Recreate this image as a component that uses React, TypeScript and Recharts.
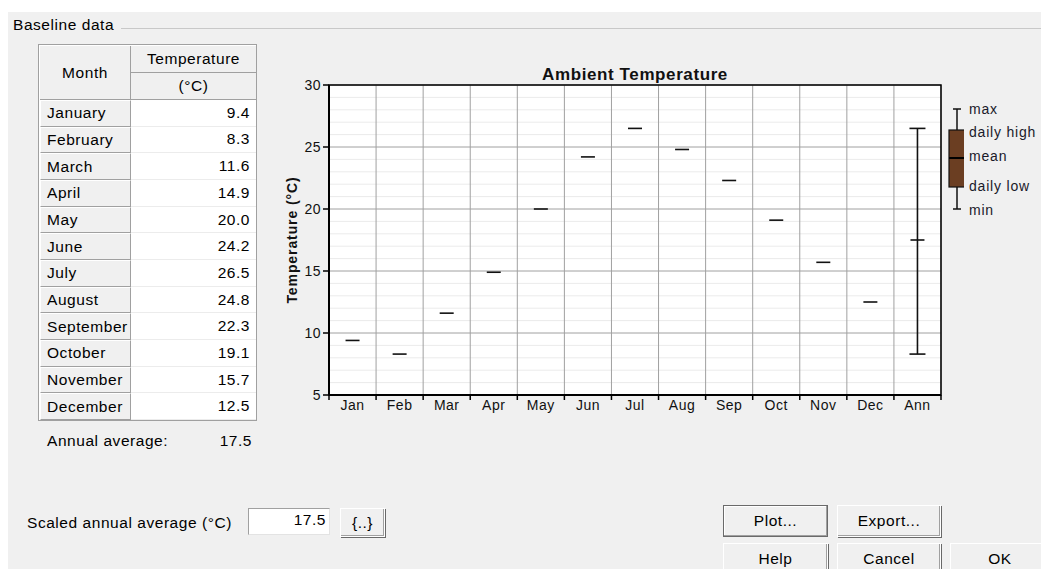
import React from "react";
import {
  ComposedChart,
  Scatter,
  XAxis,
  YAxis,
  CartesianGrid,
  ErrorBar,
  ReferenceArea,
} from "recharts";

const MONTHS = [
  "January", "February", "March", "April", "May", "June",
  "July", "August", "September", "October", "November", "December",
];
const CATEGORIES = ["Jan", "Feb", "Mar", "Apr", "May", "Jun", "Jul", "Aug", "Sep", "Oct", "Nov", "Dec", "Ann"];
const TEMPS = [9.4, 8.3, 11.6, 14.9, 20.0, 24.2, 26.5, 24.8, 22.3, 19.1, 15.7, 12.5];
const ANNUAL_MEAN = 17.5;
const ANNUAL_MIN = 8.3;
const ANNUAL_MAX = 26.5;
const SCALED_AVERAGE = 17.5;

const Y_TICKS = [5, 10, 15, 20, 25, 30];
const Y_MINOR = [6, 7, 8, 9, 11, 12, 13, 14, 16, 17, 18, 19, 21, 22, 23, 24, 26, 27, 28, 29];
const LEGEND_LABELS = ["max", "daily high", "mean", "daily low", "min"];

const FONT = "'Liberation Sans', Arial, sans-serif";
const BG = "#f0f0f0";
const UI_FONT = { fontSize: 15.5, letterSpacing: 0.55 };
const TICK_STYLE = { fill: "#111", fontSize: 14, letterSpacing: 0.5, fontFamily: FONT };

const CHART_W = 680;
const CHART_H = 360;
const MARGIN = { top: 25, right: 19, bottom: 0, left: 0 };
const Y_AXIS_W = 49;
const PLOT_W = CHART_W - MARGIN.left - MARGIN.right - Y_AXIS_W;

const monthData = TEMPS.map((t, i) => ({ x: i + 0.5, t }));
const annData = [
  { x: TEMPS.length + 0.5, t: ANNUAL_MEAN, err: [ANNUAL_MEAN - ANNUAL_MIN, ANNUAL_MAX - ANNUAL_MEAN] },
];
const boundaryTicks = CATEGORIES.map((_, i) => i).concat(CATEGORIES.length);

const Dash = (p: any) => (
  <line x1={p.cx - 7} x2={p.cx + 7} y1={p.cy} y2={p.cy} stroke="#111" strokeWidth={1.6} />
);

// label sits in the middle of each category band, right of its boundary tick
const CategoryTick = (p: any) => {
  const label = CATEGORIES[p.payload.value];
  if (!label) return <g />;
  const half = PLOT_W / CATEGORIES.length / 2;
  return (
    <text x={p.x + half} y={p.y} dy="0.7em" textAnchor="middle" {...TICK_STYLE}>
      {label}
    </text>
  );
};

function Button({ left, top, width, height, label, isDefault }: any) {
  return (
    <div
      style={{
        position: "absolute",
        left,
        top,
        width,
        height,
        boxSizing: "border-box",
        background: "#f0f0f0",
        border: isDefault ? "1px solid #6a6a6a" : "1px solid #ffffff",
        boxShadow: isDefault
          ? "inset -1px -1px 0 #a0a0a0, inset 1px 1px 0 #ffffff"
          : "inset -1px -1px 0 #a0a0a0, 1px 1px 0 #696969",
        display: "flex",
        alignItems: "center",
        justifyContent: "center",
        ...UI_FONT,
      }}
    >
      {label}
    </div>
  );
}

function Legend() {
  return (
    <div style={{ position: "absolute", left: 944, top: 100 }}>
      <svg width={20} height={120} style={{ position: "absolute", left: 0, top: 0 }}>
        <line x1={13} x2={13} y1={9} y2={109} stroke="#111" strokeWidth={1.5} />
        <line x1={9} x2={17} y1={9} y2={9} stroke="#111" strokeWidth={1.5} />
        <line x1={9} x2={17} y1={109} y2={109} stroke="#111" strokeWidth={1.5} />
        <rect x={5} y={30} width={16} height={57} fill="#6b3e22" stroke="#111" strokeWidth={1.2} />
        <line x1={5} x2={21} y1={58} y2={58} stroke="#000" strokeWidth={2} />
      </svg>
      {LEGEND_LABELS.map((l, i) => (
        <div
          key={l}
          style={{
            position: "absolute",
            left: 25,
            top: [1, 24, 48, 78, 102][i],
            fontSize: 14,
            letterSpacing: 0.8,
            color: "#1a1a2a",
            whiteSpace: "nowrap",
          }}
        >
          {l}
        </div>
      ))}
    </div>
  );
}

export default function App() {
  const rowH = 26.67;
  return (
    <div
      style={{
        position: "absolute",
        left: 0,
        top: 0,
        width: 1041,
        height: 569,
        background: "#fff",
        overflow: "hidden",
        fontFamily: FONT,
        color: "#000",
      }}
    >
      <div style={{ position: "absolute", left: 8, top: 12, width: 1033, height: 557, background: BG }} />

      {/* group box */}
      <div style={{ position: "absolute", left: 13, top: 16, ...UI_FONT }}>Baseline data</div>
      <div style={{ position: "absolute", left: 121, top: 28, width: 920, height: 1, background: "#c8c8c8" }} />

      {/* table */}
      <div
        style={{
          position: "absolute",
          left: 38,
          top: 44,
          width: 219,
          height: 377,
          boxSizing: "border-box",
          border: "1px solid #a0a0a0",
          background: "#fff",
          ...UI_FONT,
        }}
      >
        <div
          style={{
            position: "absolute", left: 1, top: 1, width: 91, height: 54, boxSizing: "border-box",
            background: BG, borderRight: "1px solid #a0a0a0", borderBottom: "1px solid #a0a0a0",
            display: "flex", alignItems: "center", justifyContent: "center",
          }}
        >
          Month
        </div>
        <div
          style={{
            position: "absolute", left: 92, top: 1, width: 125, height: 27, boxSizing: "border-box",
            background: BG, borderBottom: "1px solid #a0a0a0",
            display: "flex", alignItems: "center", justifyContent: "center",
          }}
        >
          Temperature
        </div>
        <div
          style={{
            position: "absolute", left: 92, top: 28, width: 125, height: 27, boxSizing: "border-box",
            background: BG, borderBottom: "1px solid #a0a0a0",
            display: "flex", alignItems: "center", justifyContent: "center",
          }}
        >
          (°C)
        </div>
        {MONTHS.map((m, i) => (
          <React.Fragment key={m}>
            <div
              style={{
                position: "absolute", left: 1, top: 55 + i * rowH, width: 91, height: rowH, boxSizing: "border-box",
                background: BG, borderRight: "1px solid #a0a0a0", borderBottom: "1px solid #a0a0a0",
                borderTop: "1px solid #fff", borderLeft: "1px solid #fff",
                display: "flex", alignItems: "center", paddingLeft: 6,
              }}
            >
              {m}
            </div>
            <div
              style={{
                position: "absolute", left: 92, top: 55 + i * rowH, width: 125, height: rowH, boxSizing: "border-box",
                borderBottom: "1px solid #ececec",
                display: "flex", alignItems: "center", justifyContent: "flex-end", paddingRight: 6,
              }}
            >
              {TEMPS[i].toFixed(1)}
            </div>
          </React.Fragment>
        ))}
      </div>

      <div style={{ position: "absolute", left: 47, top: 432, ...UI_FONT }}>Annual average:</div>
      <div style={{ position: "absolute", left: 190, width: 62, top: 432, textAlign: "right", ...UI_FONT }}>
        {ANNUAL_MEAN.toFixed(1)}
      </div>

      <div style={{ position: "absolute", left: 27, top: 514, ...UI_FONT }}>Scaled annual average (°C)</div>
      <div
        style={{
          position: "absolute", left: 248, top: 508, width: 82, height: 27, boxSizing: "border-box",
          background: "#fff", borderTop: "1px solid #a0a0a0", borderLeft: "1px solid #a0a0a0",
          borderRight: "1px solid #e3e3e3", borderBottom: "1px solid #e3e3e3",
          textAlign: "right", paddingRight: 3, paddingTop: 2, ...UI_FONT,
        }}
      >
        {SCALED_AVERAGE.toFixed(1)}
      </div>
      <Button left={340} top={508} width={45} height={29} label="{..}" />

      {/* chart */}
      <div
        style={{
          position: "absolute", left: 329, width: 612, top: 65, textAlign: "center",
          fontWeight: "bold", fontSize: 17, letterSpacing: 0.6, color: "#111",
        }}
      >
        Ambient Temperature
      </div>
      <div style={{ position: "absolute", left: 280, top: 60 }}>
        <ComposedChart width={CHART_W} height={CHART_H} margin={MARGIN}>
          <CartesianGrid vertical={false} horizontalValues={Y_MINOR} stroke="#ebebeb" fill="#fff" />
          <CartesianGrid stroke="#a0a0a0" />
          <XAxis
            type="number"
            dataKey="x"
            domain={[0, CATEGORIES.length]}
            ticks={boundaryTicks}
            tick={CategoryTick}
            interval={0}
            height={25}
            tickSize={5}
            tickMargin={0}
            axisLine={{ stroke: "#000", strokeWidth: 2 }}
            tickLine={{ stroke: "#000", strokeWidth: 1.5 }}
          />
          <YAxis
            type="number"
            domain={[5, 30]}
            ticks={Y_TICKS}
            width={Y_AXIS_W}
            tickSize={6}
            tickMargin={2}
            axisLine={{ stroke: "#000", strokeWidth: 2 }}
            tickLine={{ stroke: "#000", strokeWidth: 1.5 }}
            tick={TICK_STYLE}
            interval={0}
            label={{
              value: "Temperature (°C)",
              angle: -90,
              position: "insideLeft",
              offset: 12,
              style: {
                textAnchor: "middle", fontWeight: "bold", fontSize: 14, letterSpacing: 0.9,
                fill: "#111", fontFamily: FONT,
              },
            }}
          />
          <ReferenceArea
            x1={0}
            x2={CATEGORIES.length}
            y1={5}
            y2={30}
            fill="none"
            fillOpacity={0}
            stroke="#000"
            strokeWidth={1.5}
          />
          <Scatter data={monthData} dataKey="t" shape={Dash} isAnimationActive={false} />
          <Scatter data={annData} dataKey="t" shape={Dash} isAnimationActive={false}>
            <ErrorBar dataKey="err" direction="y" width={8} stroke="#111" strokeWidth={1.6} />
          </Scatter>
        </ComposedChart>
      </div>

      <Legend />

      <Button left={723} top={505} width={105} height={32} label="Plot..." isDefault />
      <Button left={837} top={505} width={104} height={32} label="Export..." />
      <Button left={723} top={543} width={105} height={32} label="Help" />
      <Button left={837} top={543} width={104} height={32} label="Cancel" />
      <Button left={950} top={543} width={100} height={32} label="OK" />
    </div>
  );
}
